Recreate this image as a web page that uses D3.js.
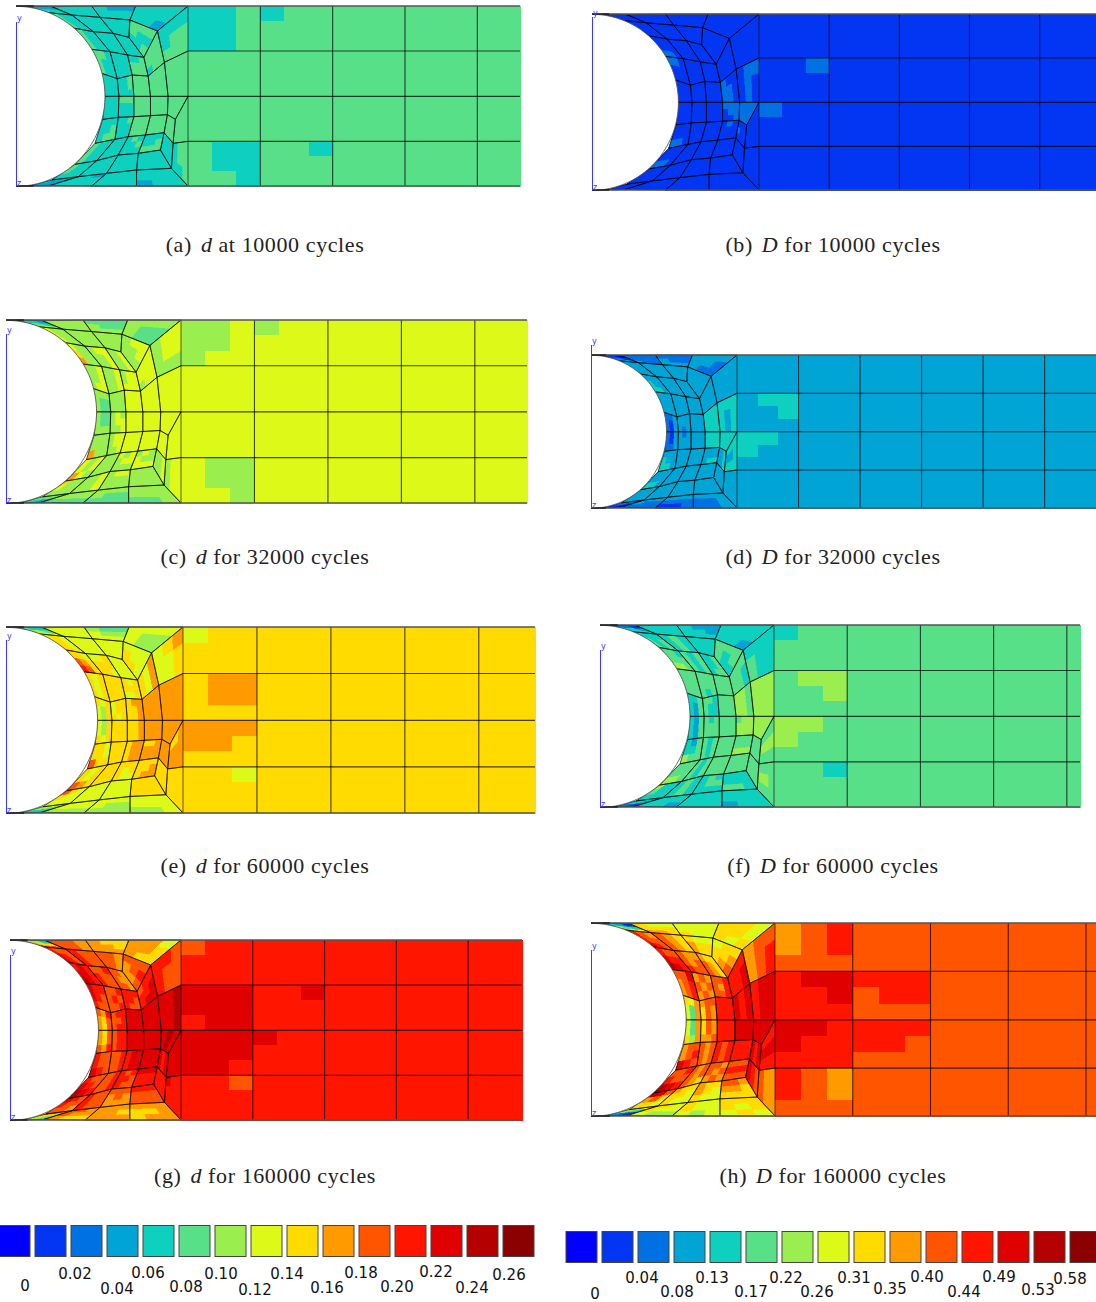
<!DOCTYPE html>
<html><head><meta charset="utf-8">
<script src="https://cdn.jsdelivr.net/npm/d3@7"></script>
<style>html,body{margin:0;padding:0;background:#fff;overflow:hidden}svg{display:block}</style>
</head><body><svg id="c" width="1096" height="1302"></svg>
<script>
// colour classes (index = hex digit used in the fields below)
const classColours=["#0000ff","#0236f2","#0071e2","#00a5d6","#0dd0bf","#58e089","#9aef4f","#ddf917","#ffdb00","#ff9a00","#ff5500","#ff1500","#e00000","#b50000","#8b0000"];
const legendLeftLabels=["0","0.02","0.04","0.06","0.08","0.10","0.12","0.14","0.16","0.18","0.20","0.22","0.24","0.26"];
const legendRightLabels=["0","0.04","0.08","0.13","0.17","0.22","0.26","0.31","0.35","0.40","0.44","0.49","0.53","0.58"];
const captions=[["(a)","d","at 10000 cycles"],["(b)","D","for 10000 cycles"],["(c)","d","for 32000 cycles"],["(d)","D","for 32000 cycles"],["(e)","d","for 60000 cycles"],["(f)","D","for 60000 cycles"],["(g)","d","for 160000 cycles"],["(h)","D","for 160000 cycles"]];

// mesh nodes, in model units
const rowMid=[[315,289],[357,289],[402,289],[452,289]];
const rowsUp=[rowMid,[[305,220],[352,236],[397,225],[445,228]],[[275,148],[330,155],[383,165],[432,172]],[[225,85],[280,95],[340,100],[387,112]],[[145,38],[215,45],[300,52],[390,60]],[[80,18],[155,20],[275,18],[407,18]]];
const rowsDown=[rowMid,[[308,358],[355,352],[402,350],[452,347]],[[285,430],[345,418],[385,410],[437,405]],[[225,493],[290,482],[355,465],[415,460]],[[155,540],[235,530],[320,520],[410,510]],[[85,558],[150,556],[275,558],[410,558]]];
const quadsUpRight=[[[452,289],[505,289],[494,187],[445,228]],[[505,289],[565,289],[565,153],[494,187]],[[445,228],[494,187],[473,93],[432,172]],[[494,187],[565,153],[565,18],[473,93]],[[432,172],[473,93],[390,60],[387,112]],[[473,93],[565,18],[407,18],[390,60]]];
const quadsDownRight=[[[452,347],[503,344],[505,289],[452,289]],[[503,344],[527,358],[565,289],[505,289]],[[527,358],[520,430],[565,424],[565,289]],[[452,347],[437,405],[493,398],[503,344]],[[493,398],[520,430],[527,358],[503,344]],[[437,405],[415,460],[482,450],[493,398]],[[482,450],[515,505],[520,430],[493,398]],[[520,430],[515,505],[565,558],[565,424]],[[415,460],[410,510],[515,505],[482,450]],[[410,510],[410,558],[565,558],[515,505]]];
const plateRows=[18,153,289,424,558];

// element fields: 1, 3 or 9 class digits (3x3 sub-cells). Order: upper 5x3, lower 5x3, upper right 6, lower right 10
const fieldA=["4","444 445 445","5","544 544 554","4","555 555 445","544","4","4","544","4","4","544 444 333","4","444 444 433",
"4","555 444 444","5","444 445 455","445 444 444","5","544","4","454 445 444","544 544 444","4","4","444 433 333","443 444 444","4",
"5","5","455 555 555","555 455 444","545 445 455","344 444 444",
"5","5","5","5","5","445 445 455","4","444 554 555","4","443 444 444"];
const fieldB=["1","1","1","111 111 221","1","1","221 111 111","1","1","1","1","1","1","1","1",
"1","1","1","111 111 221","1","1","111 111 221","1","1","1","1","1","1","1","1",
"221 221 211","121 121 122","1","1","1","1",
"112 122 222","2","1","111 211 111","111 211 111","1","1","1","1","1"];
const fieldC=["655 655 666","6","7","677 667 667","667","777 677 677","966 866 766","667 667 677","667","766","6","6","666 554 443","6","666 655 555",
"655 655 666","676 677 667","7","666 666 966","677 677 667","7","767 767 976","6","767 677 666","866 766 666","667","677 666 666","666 655 443","666 666 555","666 655 555",
"7","7","677 777 777","666 677 677","677 667 666","556 556 666",
"7","7","7","7","7","677 767 667","667","666 777 777","6","665 665 666"];
const fieldD=["213 213 223","323 333 333","3","3","3","3","443 433 333","3","3","3","3","3","333 221 110","322 222 222","333 322 222",
"213 213 223","323 333 333","3","333 433 443","3","3","333 333 443","3","3","3","3","3","333 221 110","333 322 222","333 222 112",
"4","434 434 444","3","3","3","223 233 333",
"4","4","434 434 444","333 334 334","334","3","3","3","3","322 322 333"];
const fieldE=["768 768 878","878 788 788","889 889 899","878","8","778 888 878","ba8 a98 887","887 888 778","7","887 887 787","7","7","777 665 544","7","777 766 655",
"768 768 878","8","889","887 887 a88","8","899","878 878 a98","8","888 878 877","a87 877 777","7","7","777 665 444","777 777 666","777 766 666",
"9","9","879","778 778 789","777 877 887","667 667 777",
"9","9","899 899 999","899 899 999","9","888 889 899","8","8","8","776 776 777"];
const fieldF=["435 435 445","544 544 554","5","5","545 555 555","5","665 555 554","545","455 445 445","545 545 444","454","4","444 443 221","4","444 443 433",
"435 435 435","545 555 555","5","435 445 655","545","5","555 555 665","545","5","644 544 444","454","454 455 444","444 443 221","444 444 443","4",
"665","6","554 554 555","544 544 444","455 445 555","344 444 444",
"666 666 566","6","565 565 565","556","5","5","5","565 565 555","445 445 444","443 444 444"];
const fieldG=["98a 98a a9b","abb aab abb","c","baa cba cbb","aab aba aab","baa bba bbb","dcb ccb bcb","baa baa aab","aa9 a99 aa9","cba cba baa","baa","aa9","baa 988 664","aa9","999 998 988",
"98a 98a a9b","abb","c","baa baa cba","aab","bcc","baa cba dcb","aab","bab bba baa","cba baa aa9","baa","aaa 9a9 999","aa9 886 665","aa9 a99 988","999 998 999",
"c","ccd","bcc bbc abb","baa baa bba","aba 9aa 99a","887 899 999",
"c","cdc","c","c","cbc","cbb","b","cbb bbb bbb","baa","988 989 999"];
const fieldH=["759 759 879","8a9 8a9 9aa","b","9ab 9ab aac","9a9 a9a 9a9","aab a9b aab","dcb cbb baa","baa a9a a99","a98 a98 988","cba baa ba9","a98","988 988 877","a87 654 431","998 888 877","877 777 777",
"759 759 869","8a9 8a9 99a","b","9aa 9ab cba","a9a","bab","aab baa dcb","a9a a9a a98","aa9 a9a 9a9","dca 9a8 887","988 887 877","988 987 877","887 654 321","887 877 766","877 877 767",
"cbc","bcc","bbc bbc bbb","9ab 9ab 9aa","a98 988 887","877 788 888",
"c","c","bcb","b","cbc","aba","cba","aaa 999 999","a98 a98 988","887 878 887"];

// plate: base class, and [row, column, sub-cells] where it differs
const plateA=["5",[0,0,"445"],[0,1,"455 555 555"],[3,0,"544 544 554"],[3,1,"554 555 555"]];
const plateB=["1",[1,0,"112 111 111"],[2,0,"211 111 111"]];
const plateC=["7",[0,0,"667 667 677"],[0,1,"677 777 777"],[3,0,"766 766 776"]];
const plateD=["3",[1,0,"344 334 333"],[2,0,"443 433 333"]];
const plateE=["8",[0,0,"788 888 888"],[1,0,"899 899 888"],[2,0,"999 998 888"],[3,0,"887 888 888"]];
const plateF=["5",[0,0,"455 555 555"],[1,0,"566 556 555"],[2,0,"665 655 555"],[3,0,"554 555 555"]];
const plateG=["b",[0,0,"abb bbb bbb"],[1,0,"ccc ccc bcc"],[1,1,"bbc bbb bbb"],[2,0,"ccc ccc ccb"],[2,1,"cbb bbb bbb"],[3,0,"bba bbb bbb"]];
const plateH=["a",[0,0,"9ab 9ab aaa"],[1,0,"bcc bbc bbb"],[1,1,"bbb abb aaa"],[2,0,"ccb cbb bbb"],[2,1,"bbb bba aaa"],[3,0,"ba9 ba9 aaa"]];

// layout of each panel on the page (kept apart from the data)
const frames=[
 {f:fieldA,p:plateA,l:16,e:188,r:520,t:6,b:186,cols:4.59,ay:22,cx:265,cy:252},
 {f:fieldB,p:plateB,l:592,e:759,r:1100,t:14,b:190,cols:4.86,ay:17,cx:833,cy:252},
 {f:fieldC,p:plateC,l:6,e:181,r:527,t:320,b:503,cols:4.71,ay:334,cx:265,cy:564},
 {f:fieldD,p:plateD,l:591,e:737,r:1100,t:355,b:508,cols:5.9,ay:345,cx:833,cy:564},
 {f:fieldE,p:plateE,l:6,e:183,r:535,t:627,b:813,cols:4.76,ay:640,cx:265,cy:873},
 {f:fieldF,p:plateF,l:600,e:774,r:1080,t:625,b:807,cols:4.18,ay:650,cx:833,cy:873},
 {f:fieldG,p:plateG,l:10,e:181,r:522,t:940,b:1120,cols:4.75,ay:955,cx:265,cy:1183},
 {f:fieldH,p:plateH,l:591,e:775,r:1100,t:923,b:1116,cols:4.18,ay:950,cx:833,cy:1183}];
const legendLeftPos=[[25,1286],[75,1274],[117,1289],[148,1273],[186,1287],[221,1274],[255,1290],[287,1274],[327,1288],[361,1273],[397,1287],[436,1272],[472,1288],[509,1275]];
const legendRightPos=[[595,1294],[642,1278],[677,1292],[712,1278],[751,1292],[786,1278],[817,1292],[854,1278],[890,1289],[927,1277],[964,1292],[999,1277],[1038,1290],[1070,1279]];

const svg=d3.select("#c");
const cellsOf=s=>{s=s.replace(/ /g,"");if(s.length===1)s=s.repeat(9);if(s.length===3)s=s.repeat(3);return s;};
const cls=ch=>classColours[parseInt(ch,16)];
const lerp=(a,b,t)=>[a[0]+(b[0]-a[0])*t,a[1]+(b[1]-a[1])*t];
const bil=(q,u,v)=>lerp(lerp(q[0],q[1],u),lerp(q[3],q[2],u),v);

// ordered element list
const quads=[];
[rowsUp,rowsDown].forEach(rows=>{for(let i=0;i<5;i++)for(let j=0;j<3;j++)quads.push([rows[i][j],rows[i][j+1],rows[i+1][j+1],rows[i+1][j]]);});
quadsUpRight.forEach(q=>quads.push(q));quadsDownRight.forEach(q=>quads.push(q));

frames.forEach((fr,pi)=>{
 const g=svg.append("g");
 const x=d3.scaleLinear().domain([47,565]).range([fr.l,fr.e]);
 const y=d3.scaleLinear().domain([18,558]).range([fr.t,fr.b]);
 const px=d3.scaleLinear().domain([0,fr.cols]).range([fr.e,fr.r]);
 const pathOf=pts=>"M"+pts.map(p=>x(p[0])+","+y(p[1])).join("L")+"Z";
 const sub=[];
 fr.f.forEach((s,k)=>{const c=cellsOf(s),q=quads[k];for(let v=0;v<3;v++)for(let u=0;u<3;u++){
   sub.push({d:pathOf([bil(q,u/3,v/3),bil(q,(u+1)/3,v/3),bil(q,(u+1)/3,(v+1)/3),bil(q,u/3,(v+1)/3)]),c:cls(c[v*3+u])});}});
 g.append("g").attr("shape-rendering","crispEdges").selectAll("path").data(sub).join("path").attr("d",d=>d.d).attr("fill",d=>d.c).attr("stroke",d=>d.c).attr("stroke-width",.6);
 // plate
 const base=fr.p[0],over={};fr.p.slice(1).forEach(o=>over[o[0]+"_"+o[1]]=cellsOf(o[2]));
 const pr=[];const nc=Math.ceil(fr.cols);
 for(let r=0;r<4;r++)for(let c=0;c<nc;c++){const s=over[r+"_"+c]||base.repeat(9);
  for(let v=0;v<3;v++)for(let u=0;u<3;u++){
   const x0=c+u/3,x1=Math.min(c+(u+1)/3,fr.cols);if(x0>=fr.cols)continue;
   const yy=plateRows[r]+(plateRows[r+1]-plateRows[r])*v/3,yz=plateRows[r]+(plateRows[r+1]-plateRows[r])*(v+1)/3;
   pr.push({x:px(x0),w:px(x1)-px(x0),y:y(yy),h:y(yz)-y(yy),c:cls(s[v*3+u])});}}
 g.append("g").attr("shape-rendering","crispEdges").selectAll("rect").data(pr).join("rect").attr("x",d=>d.x).attr("y",d=>d.y).attr("width",d=>d.w+.5).attr("height",d=>d.h+.5).attr("fill",d=>d.c);
 // mesh lines
 const lines=g.append("g").attr("fill","none").attr("stroke","#000").attr("stroke-width",.85).attr("stroke-opacity",.72);
 lines.selectAll("path").data(quads).join("path").attr("d",pathOf);
 for(let c=1;c<=Math.floor(fr.cols);c++)lines.append("line").attr("x1",px(c)).attr("x2",px(c)).attr("y1",y(18)).attr("y2",y(558)).attr("stroke-width",1.1);
 plateRows.slice(1,4).forEach(r=>lines.append("line").attr("x1",px(0)).attr("x2",px(fr.cols)).attr("y1",y(r)).attr("y2",y(r)).attr("stroke-width",1.1));
 // hole
 const arcPts=d3.range(-90,90.5,2).map(a=>[47+268*Math.cos(a*Math.PI/180),289+270*Math.sin(a*Math.PI/180)]);
 g.append("path").attr("d","M"+arcPts.map(p=>x(p[0])+","+y(p[1])).join("L")).attr("fill","#fff").attr("stroke","#555").attr("stroke-width",.9);
 // outer top / bottom edge
 [18,558].forEach(v=>g.append("line").attr("x1",x(47)).attr("x2",px(fr.cols)).attr("y1",y(v)).attr("y2",y(v)).attr("stroke","#555").attr("stroke-width",1.3));
 [18,558].forEach(v=>g.append("line").attr("x1",x(47)).attr("x2",x(100)).attr("y1",y(v)).attr("y2",y(v)).attr("stroke","#000").attr("stroke-width",1));
 // view axes
 g.append("line").attr("x1",fr.l+.5).attr("x2",fr.l+.5).attr("y1",fr.ay).attr("y2",fr.b).attr("stroke","#3a3aff").attr("stroke-width",1);
 g.append("text").attr("x",fr.l+1).attr("y",fr.ay-1).text("y").attr("fill","#3a3aff").attr("font-family","DejaVu Sans").attr("font-size",8);
 g.append("text").attr("x",fr.l+1).attr("y",fr.b-.5).text("z").attr("fill","#3a3aff").attr("font-family","DejaVu Sans").attr("font-size",8);
 // caption
 const cp=captions[pi];
 const t=svg.append("text").attr("x",fr.cx).attr("y",fr.cy).attr("text-anchor","middle").attr("font-family","Liberation Serif").attr("font-size",22).attr("letter-spacing",.6).attr("fill","#222");
 t.append("tspan").text(cp[0]);
 t.append("tspan").attr("dx",9).attr("font-style","italic").text(cp[1]);
 t.append("tspan").attr("dx",6).text(cp[2]);
});

// colour bars
const band=(x0)=>d3.scaleBand().domain(d3.range(classColours.length)).range([x0,x0+36*classColours.length-5]).paddingInner(5/36).paddingOuter(0);
[[-1,1225.5,legendLeftLabels,legendLeftPos],[566,1231.5,legendRightLabels,legendRightPos]].forEach(([x0,y0,labs,pos])=>{
 const b=band(x0),g=svg.append("g");
 g.selectAll("rect").data(classColours).join("rect").attr("x",(d,i)=>b(i)).attr("y",y0).attr("width",b.bandwidth()).attr("height",31).attr("fill",d=>d).attr("stroke","#444").attr("stroke-width",1);
 g.selectAll("text").data(labs).join("text").attr("x",(d,i)=>pos[i][0]).attr("y",(d,i)=>pos[i][1]+5).attr("text-anchor","middle").attr("font-family","DejaVu Sans").attr("font-size",15).attr("fill","#111").text(d=>d);
});
</script></body></html>
